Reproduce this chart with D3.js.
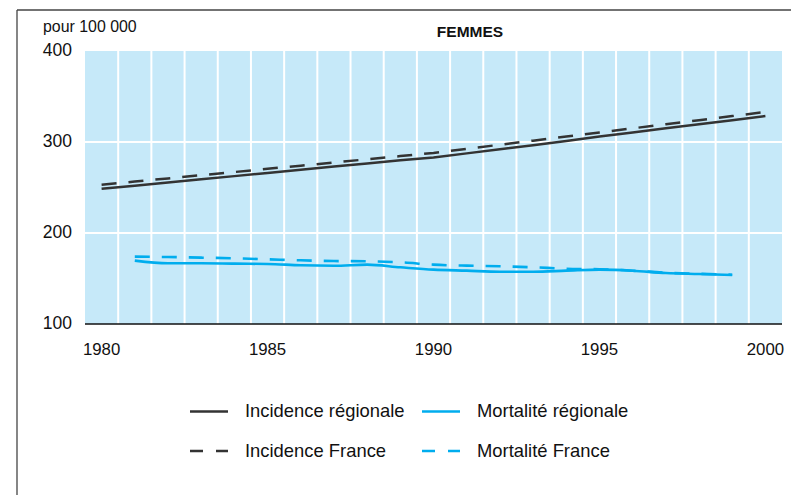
<!DOCTYPE html>
<html>
<head>
<meta charset="utf-8">
<script src="https://cdn.jsdelivr.net/npm/d3@7"></script>
<style>
  body { margin: 0; background: #fff; }
  svg { display: block; font-family: "Liberation Sans", Arial, Helvetica, sans-serif; }
</style>
</head>
<body>
<div id="chart"></div>
<script>
// Data (rate per 100 000)
const years = d3.range(1980, 2001);
const incidenceRegion = [248.5, 252, 255.5, 259, 262.5, 266, 269.5, 273, 276.5, 280, 283,
  287.5, 292, 296.5, 301, 306, 310.5, 315, 319.5, 324, 328.5];
const incidenceFrance = [253, 256.5, 260, 263.5, 267, 270.5, 274, 277.5, 281, 284.5, 288,
  292.5, 297, 301.5, 306, 310.5, 315, 319.5, 324, 328.5, 333];
const mortYears = d3.range(1981, 2000);
const mortRegion = [169.6, 166.7, 166.7, 166.3, 166, 164.5, 164, 165.2, 162.3, 159.7,
  158.6, 157.5, 157.5, 158.6, 159.7, 158.6, 156, 154.9, 153.8];
const mortFrance = [174, 173.6, 172.9, 172.2, 171.1, 170, 169.2, 168.9, 167.8, 165.2,
  164.1, 163.4, 162.3, 160.8, 160.2, 158.6, 156.3, 155.2, 154.1];
const yTicks = [100, 200, 300, 400];
const xTicks = [1980, 1985, 1990, 1995, 2000];

const W = 791, H = 495;
const plot = { left: 85, right: 782, top: 51, bottom: 324 };
const dark = "#333333", blue = "#00adee";

const svg = d3.select("#chart").append("svg")
  .attr("width", W).attr("height", H);

// frame (top and left edges only)
svg.append("line").attr("x1", 17).attr("x2", W).attr("y1", 10).attr("y2", 10)
  .attr("stroke", "#444").attr("stroke-width", 1.3);
svg.append("line").attr("x1", 17).attr("x2", 17).attr("y1", 10).attr("y2", H)
  .attr("stroke", "#444").attr("stroke-width", 1.3);

const x = d3.scaleBand().domain(years).range([plot.left, plot.right]).padding(0);
const xc = d => x(d) + x.bandwidth() / 2;
const y = d3.scaleLinear().domain([100, 400]).range([plot.bottom, plot.top]);

// plot background
svg.append("rect")
  .attr("x", plot.left).attr("y", plot.top)
  .attr("width", plot.right - plot.left).attr("height", plot.bottom - plot.top)
  .attr("fill", "#c6e9f9");

// white grid: band separators and horizontal lines
svg.selectAll(".vgrid")
  .data(years.slice(1))
  .enter().append("line")
  .attr("x1", d => x(d)).attr("x2", d => x(d))
  .attr("y1", plot.top).attr("y2", plot.bottom)
  .attr("stroke", "#fff").attr("stroke-width", 2);

svg.selectAll(".hgrid")
  .data([200, 300])
  .enter().append("line")
  .attr("x1", plot.left).attr("x2", plot.right)
  .attr("y1", d => y(d)).attr("y2", d => y(d))
  .attr("stroke", "#fff").attr("stroke-width", 2);

// axes
svg.append("g")
  .attr("transform", `translate(0,${plot.bottom})`)
  .call(d3.axisBottom(x).tickValues(xTicks).tickSize(0).tickPadding(0))
  .call(g => g.select(".domain").attr("stroke", "#111").attr("stroke-width", 1.5)
    .attr("d", `M${plot.left},0H${plot.right}`))
  .call(g => g.selectAll("text").attr("font-size", 16.8).attr("fill", "#111")
    .attr("dy", 0).attr("y", 31).attr("font-family", "Liberation Sans, Arial, sans-serif"));

svg.append("g")
  .attr("transform", `translate(${plot.left},0)`)
  .call(d3.axisLeft(y).tickValues(yTicks).tickSize(0).tickPadding(13))
  .call(g => g.select(".domain").remove())
  .call(g => g.selectAll("text").attr("font-size", 17.5).attr("fill", "#111")
    .attr("dy", 4.5).attr("font-family", "Liberation Sans, Arial, sans-serif"));

svg.append("text")
  .attr("x", 43).attr("y", 32)
  .attr("font-size", 15.9).attr("fill", "#111")
  .text("pour 100 000");

svg.append("text")
  .attr("x", 470).attr("y", 36.5)
  .attr("text-anchor", "middle")
  .attr("font-size", 15.5).attr("font-weight", "bold").attr("fill", "#111")
  .text("FEMMES");

// lines
const lineInc = d3.line().x((d, i) => xc(years[i])).y(d => y(d));
const lineMort = d3.line().x((d, i) => xc(mortYears[i])).y(d => y(d)).curve(d3.curveMonotoneX);

svg.append("path").datum(incidenceFrance)
  .attr("d", lineInc).attr("fill", "none")
  .attr("stroke", dark).attr("stroke-width", 2.5).attr("stroke-dasharray", "15,12");
svg.append("path").datum(incidenceRegion)
  .attr("d", lineInc).attr("fill", "none")
  .attr("stroke", dark).attr("stroke-width", 2.5);
svg.append("path").datum(mortFrance)
  .attr("d", lineMort).attr("fill", "none")
  .attr("stroke", blue).attr("stroke-width", 2.6).attr("stroke-dasharray", "15,12");
svg.append("path").datum(mortRegion)
  .attr("d", lineMort).attr("fill", "none")
  .attr("stroke", blue).attr("stroke-width", 2.6);

// legend
const legendItems = [
  { label: "Incidence régionale", color: dark, dash: null, x: 190, y: 411.5 },
  { label: "Mortalité régionale", color: blue, dash: null, x: 422, y: 411.5 },
  { label: "Incidence France", color: dark, dash: "13,13", x: 190, y: 451 },
  { label: "Mortalité France", color: blue, dash: "13,13", x: 422, y: 451 }
];
const legend = svg.append("g");
legendItems.forEach(it => {
  legend.append("line")
    .attr("x1", it.x).attr("x2", it.x + 38)
    .attr("y1", it.y).attr("y2", it.y)
    .attr("stroke", it.color).attr("stroke-width", 2.6)
    .attr("stroke-dasharray", it.dash);
  legend.append("text")
    .attr("x", it.x + 55).attr("y", it.y + 5.8)
    .attr("font-size", 18.4).attr("fill", "#111")
    .text(it.label);
});
</script>
</body>
</html>
